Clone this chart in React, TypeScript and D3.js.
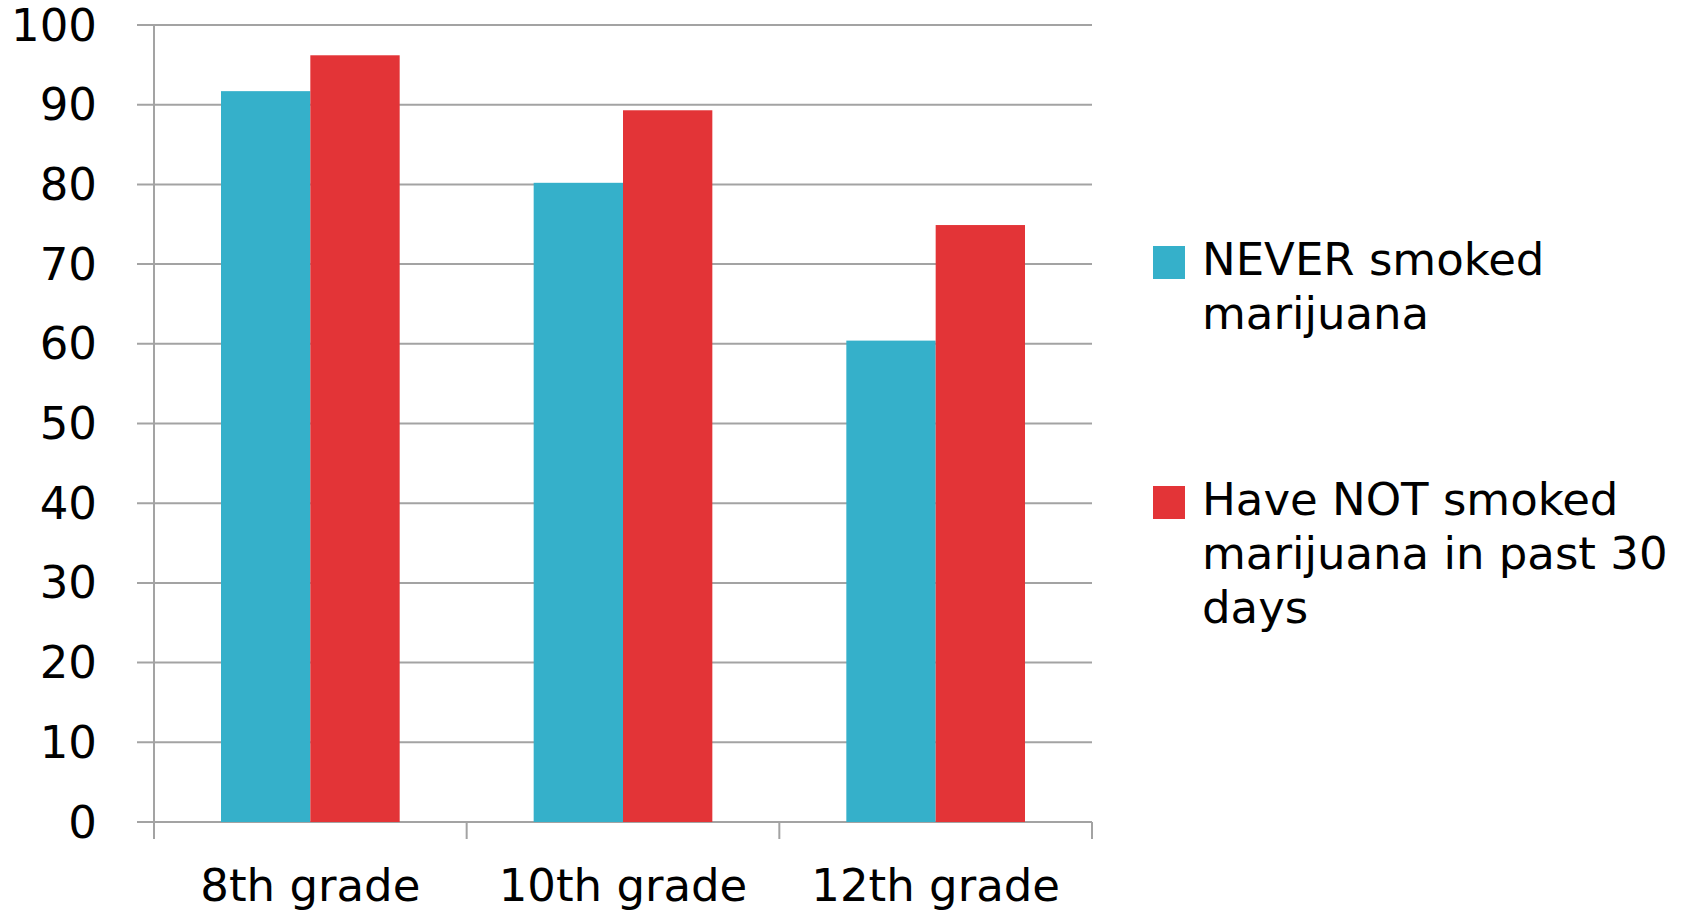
import React from "react";
import * as d3 from "d3";

const grades = ["8th grade", "10th grade", "12th grade"];
const seriesNames = ["never", "notPast30"];
const neverSmoked = [91.7, 80.2, 60.4];
const notPast30 = [96.2, 89.3, 74.9];
const yTicks = [0, 10, 20, 30, 40, 50, 60, 70, 80, 90, 100];
const legendLines = [
  ["NEVER smoked", "marijuana"],
  ["Have NOT smoked", "marijuana in past 30", "days"],
];

const colors = ["#35b0ca", "#e33437"];
const gridColor = "#a3a3a3";
const font = "'DejaVu Sans', sans-serif";

const left = 154;
const right = 1092;
const top = 25;
const bottom = 822;

const App = () => {
  const x0 = d3.scaleBand().domain(grades).range([left, right]).padding(0);
  const x1 = d3
    .scaleBand()
    .domain(seriesNames)
    .range([0, x0.bandwidth()])
    .paddingInner(0)
    .paddingOuter(0.75);
  const y = d3.scaleLinear().domain([0, 100]).range([bottom, top]);

  const values = [neverSmoked, notPast30];
  const tickXs = [...grades.map((g) => x0(g)), right];

  return (
    <svg
      width={1694}
      height={914}
      style={{ position: "absolute", left: 0, top: 0 }}
      fontFamily={font}
    >
      <rect width={1694} height={914} fill="#fff" />

      {/* gridlines + y labels */}
      {yTicks.map((t) => (
        <g key={t}>
          <line
            x1={left - 17}
            x2={right}
            y1={y(t)}
            y2={y(t)}
            stroke={gridColor}
            strokeWidth={2}
          />
          <text
            x={97}
            y={y(t)}
            textAnchor="end"
            dominantBaseline="central"
            fontSize={45}
            fill="#000"
          >
            {t}
          </text>
        </g>
      ))}

      {/* y axis */}
      <line x1={left} x2={left} y1={top} y2={bottom + 17} stroke={gridColor} strokeWidth={2} />

      {/* x ticks */}
      {tickXs.map((tx, i) => (
        <line
          key={i}
          x1={tx}
          x2={tx}
          y1={bottom}
          y2={bottom + 17}
          stroke={gridColor}
          strokeWidth={2}
        />
      ))}

      {/* bars */}
      {grades.map((g, gi) => (
        <g key={g} transform={`translate(${x0(g)},0)`}>
          {seriesNames.map((s, si) => (
            <rect
              key={s}
              x={x1(s)}
              y={y(values[si][gi])}
              width={x1.bandwidth()}
              height={bottom - y(values[si][gi])}
              fill={colors[si]}
            />
          ))}
        </g>
      ))}

      {/* x labels */}
      {grades.map((g) => (
        <text
          key={g}
          x={(x0(g) as number) + x0.bandwidth() / 2}
          y={901}
          textAnchor="middle"
          fontSize={45}
          fill="#000"
        >
          {g}
        </text>
      ))}

      {/* legend */}
      {legendLines.map((lines, li) => {
        const baseY = li === 0 ? 275 : 515;
        return (
          <g key={li}>
            <rect
              x={1153}
              y={baseY - 29}
              width={32}
              height={33}
              fill={colors[li]}
            />
            {lines.map((ln, k) => (
              <text key={k} x={1202} y={baseY + k * 54} fontSize={45} fill="#000">
                {ln}
              </text>
            ))}
          </g>
        );
      })}
    </svg>
  );
};

export default App;
